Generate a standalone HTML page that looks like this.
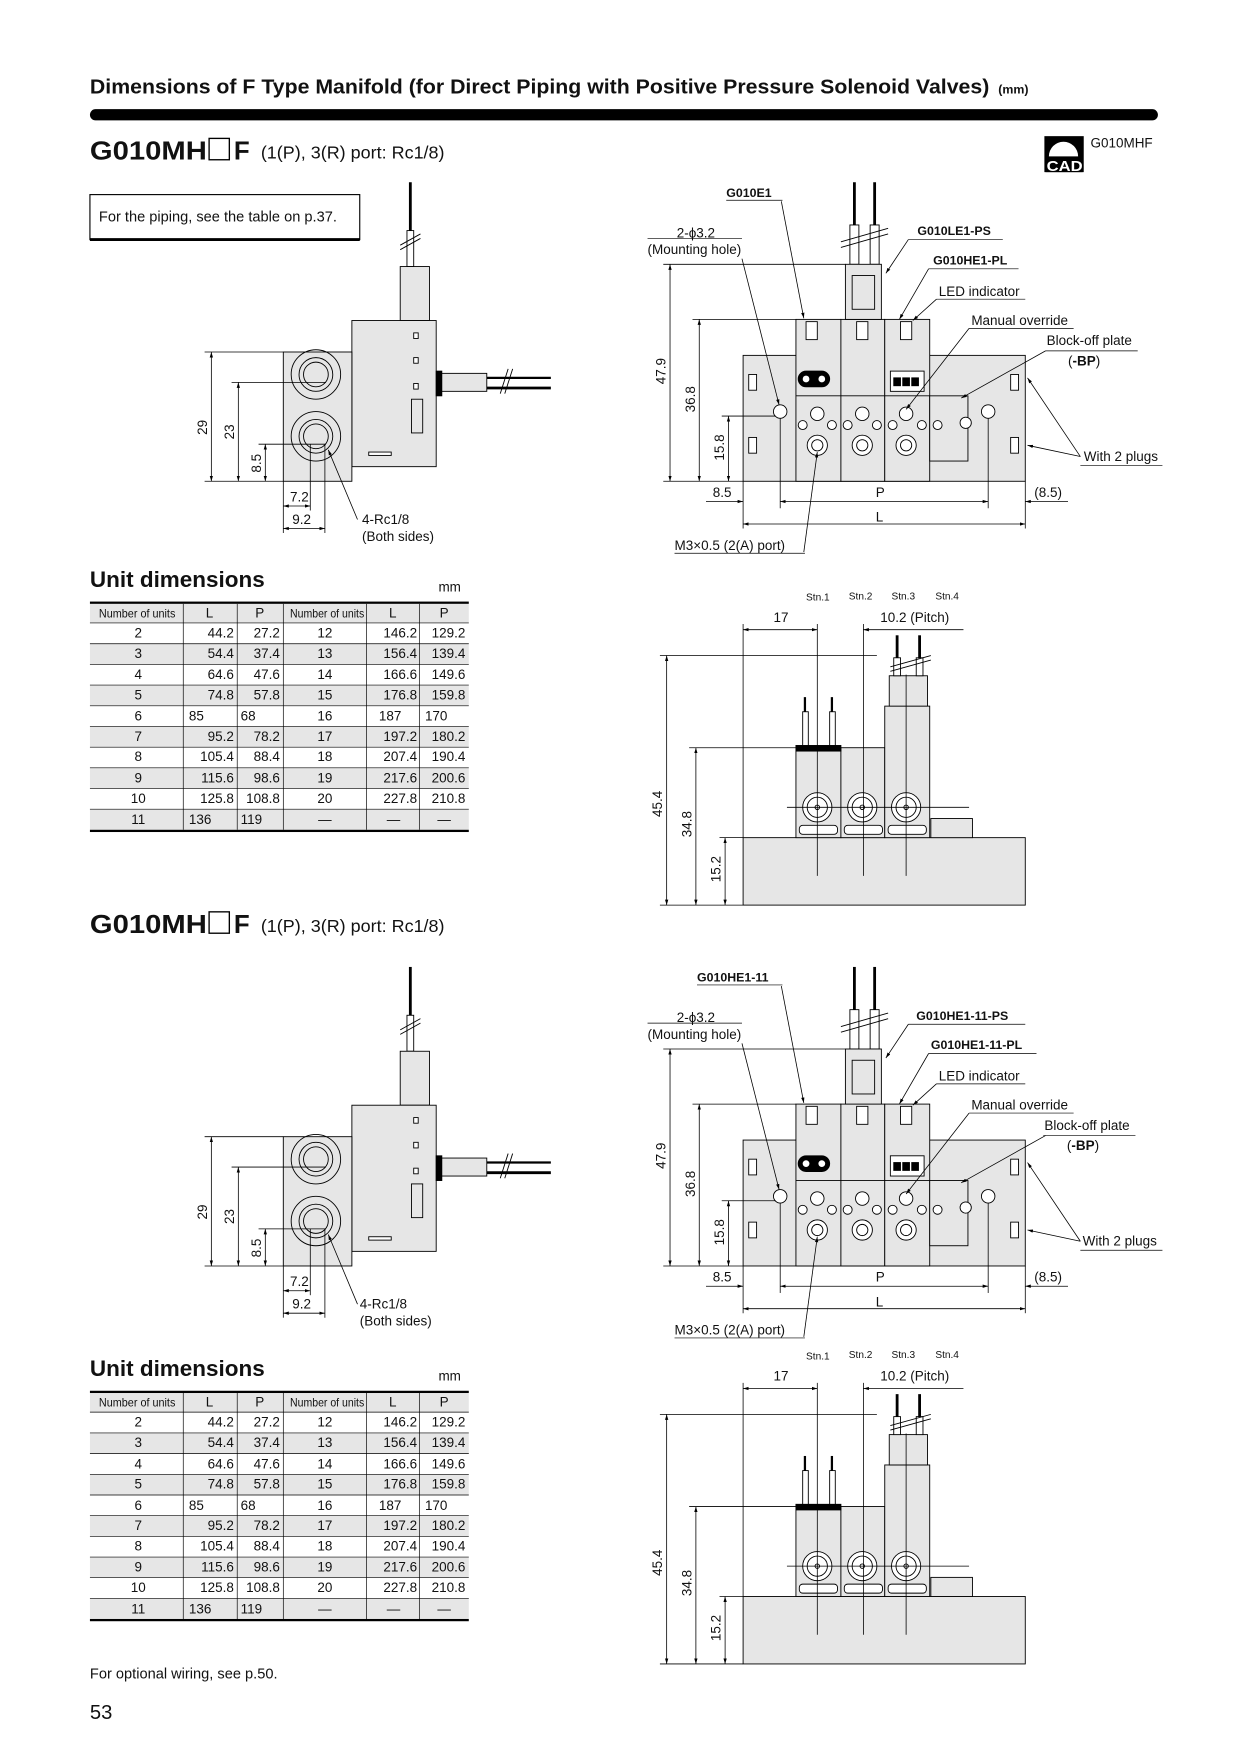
<!DOCTYPE html>
<html><head><meta charset="utf-8"><style>
html,body{margin:0;padding:0;background:#fff}
svg{display:block}
text{font-family:"Liberation Sans",sans-serif;fill:#111}
</style></head><body>
<svg width="1240" height="1754" viewBox="0 0 1103 1560" xmlns="http://www.w3.org/2000/svg">
<defs>
<marker id="ar" viewBox="0 0 10 10" refX="10" refY="5" markerWidth="7" markerHeight="7" orient="auto-start-reverse"><path d="M0,2 L10,5 L0,8 z" fill="#000"/></marker>

<g id="side" stroke="#000" stroke-width="0.8" fill="#e6e6e6">
 <line x1="365" y1="162" x2="365" y2="205" stroke-width="2.5"/>
 <rect x="362" y="205" width="6" height="32" fill="#fff"/>
 <line x1="356" y1="218" x2="374" y2="208"/><line x1="356" y1="222" x2="374" y2="212"/>
 <rect x="356" y="237" width="26" height="48"/>
 <rect x="313" y="285" width="75" height="130"/>
 <rect x="252" y="313" width="61" height="115"/>
 <circle cx="281" cy="333" r="22" fill="none"/><circle cx="281" cy="333" r="15" fill="none"/><circle cx="281" cy="333" r="11" fill="none"/>
 <circle cx="281" cy="388" r="22" fill="none"/><circle cx="281" cy="388" r="15" fill="none"/><circle cx="281" cy="388" r="11" fill="none"/>
 <rect x="368" y="296" width="4" height="5" fill="#fff"/><rect x="368" y="318" width="4" height="5" fill="#fff"/><rect x="368" y="341" width="4" height="5" fill="#fff"/>
 <rect x="388" y="330" width="5" height="22" fill="#000"/>
 <rect x="393" y="332" width="40" height="16"/>
 <line x1="433" y1="336" x2="490" y2="336" stroke-width="2"/><line x1="433" y1="345" x2="490" y2="345" stroke-width="2.5"/>
 <line x1="445" y1="350" x2="452" y2="328"/><line x1="449" y1="350" x2="456" y2="328"/>
 <rect x="366" y="355" width="10" height="30"/>
 <rect x="328" y="402" width="20" height="3" fill="#fff"/>
</g>
<g id="sidedim" stroke="#000" stroke-width="0.7" fill="none">
 <line x1="182" y1="313" x2="252" y2="313"/><line x1="182" y1="428" x2="252" y2="428"/>
 <line x1="206" y1="340" x2="290" y2="340"/><line x1="230" y1="395" x2="290" y2="395"/>
 <line x1="188" y1="313" x2="188" y2="428" marker-start="url(#ar)" marker-end="url(#ar)"/>
 <line x1="212" y1="340" x2="212" y2="428" marker-start="url(#ar)" marker-end="url(#ar)"/>
 <line x1="236" y1="395" x2="236" y2="428" marker-start="url(#ar)" marker-end="url(#ar)"/>
 <line x1="252" y1="428" x2="252" y2="474"/><line x1="276" y1="395" x2="276" y2="454"/><line x1="289" y1="395" x2="289" y2="474"/>
 <line x1="252" y1="450" x2="276" y2="450" marker-start="url(#ar)" marker-end="url(#ar)"/>
 <line x1="252" y1="470" x2="289" y2="470" marker-start="url(#ar)" marker-end="url(#ar)"/>
 <line x1="318" y1="462" x2="292" y2="400" marker-end="url(#ar)"/>
</g>

<g id="front" stroke="#000" stroke-width="0.8" fill="#e6e6e6">
 <line x1="760" y1="162" x2="760" y2="200" stroke-width="2.5"/><line x1="778" y1="162" x2="778" y2="200" stroke-width="2.5"/>
 <rect x="756" y="200" width="8" height="35" fill="#fff"/><rect x="774" y="200" width="8" height="35" fill="#fff"/>
 <line x1="748" y1="215" x2="790" y2="203"/><line x1="748" y1="220" x2="790" y2="208"/>
 <rect x="661" y="316" width="251" height="112"/>
 <rect x="708" y="284" width="40" height="144"/><rect x="748" y="284" width="39" height="144"/><rect x="787" y="284" width="40" height="144"/>
 <rect x="752" y="235" width="32" height="49"/><rect x="758" y="245" width="20" height="30" fill="#e6e6e6"/>
 <rect x="717" y="286" width="10" height="16" fill="#fff"/><rect x="762" y="286" width="10" height="16" fill="#fff"/><rect x="801" y="286" width="10" height="16" fill="#fff"/>
 <rect x="710" y="330" width="28" height="14" rx="7" fill="#000"/>
 <circle cx="717" cy="337" r="3" fill="#fff" stroke="none"/><circle cx="731" cy="337" r="3" fill="#fff" stroke="none"/>
 <rect x="792" y="330" width="30" height="18" fill="#fff"/>
 <rect x="795" y="336" width="6" height="7" fill="#000"/><rect x="803" y="336" width="6" height="7" fill="#000"/><rect x="811" y="336" width="6" height="7" fill="#000"/>
 <line x1="708" y1="352" x2="827" y2="352"/>
 <rect x="827" y="352" width="34" height="58"/>
 <g fill="#fff">
 <circle cx="727" cy="368" r="6"/><circle cx="767" cy="368" r="6"/><circle cx="806" cy="368" r="6"/>
 <circle cx="714" cy="378" r="4"/><circle cx="740" cy="378" r="4"/><circle cx="754" cy="378" r="4"/><circle cx="780" cy="378" r="4"/><circle cx="794" cy="378" r="4"/><circle cx="820" cy="378" r="4"/><circle cx="834" cy="378" r="4"/><circle cx="859" cy="376" r="5"/>
 <circle cx="727" cy="396" r="9"/><circle cx="727" cy="396" r="5"/>
 <circle cx="767" cy="396" r="9"/><circle cx="767" cy="396" r="5"/>
 <circle cx="806" cy="396" r="9"/><circle cx="806" cy="396" r="5"/>
 <circle cx="694" cy="366" r="6"/><circle cx="879" cy="366" r="6"/>
 <rect x="666" y="333" width="7" height="14"/><rect x="666" y="389" width="7" height="14"/>
 <rect x="899" y="333" width="7" height="14"/><rect x="899" y="389" width="7" height="14"/>
 </g>
</g>
<g id="frontdim" stroke="#000" stroke-width="0.7" fill="none">
 <line x1="590" y1="235" x2="752" y2="235"/><line x1="616" y1="284" x2="708" y2="284"/><line x1="642" y1="370" x2="690" y2="370"/>
 <line x1="590" y1="428" x2="661" y2="428"/>
 <line x1="596" y1="235" x2="596" y2="428" marker-start="url(#ar)" marker-end="url(#ar)"/>
 <line x1="622" y1="284" x2="622" y2="428" marker-start="url(#ar)" marker-end="url(#ar)"/>
 <line x1="648" y1="370" x2="648" y2="428" marker-start="url(#ar)" marker-end="url(#ar)"/>
 <line x1="661" y1="428" x2="661" y2="470"/><line x1="912" y1="428" x2="912" y2="470"/>
 <line x1="694" y1="372" x2="694" y2="452"/><line x1="879" y1="372" x2="879" y2="452"/>
 <line x1="628" y1="446" x2="661" y2="446" marker-end="url(#ar)"/>
 <line x1="694" y1="446" x2="879" y2="446" marker-start="url(#ar)" marker-end="url(#ar)"/>
 <line x1="912" y1="446" x2="950" y2="446" marker-start="url(#ar)"/>
 <line x1="661" y1="466" x2="912" y2="466" marker-start="url(#ar)" marker-end="url(#ar)"/>
 <line x1="660" y1="230" x2="693" y2="360" marker-end="url(#ar)"/>
 <line x1="695" y1="179" x2="715" y2="283" marker-end="url(#ar)"/>
 <line x1="808" y1="213" x2="788" y2="243" marker-end="url(#ar)"/>
 <line x1="826" y1="239" x2="800" y2="284" marker-end="url(#ar)"/>
 <line x1="833" y1="266" x2="812" y2="285" marker-end="url(#ar)"/>
 <line x1="862" y1="292" x2="806" y2="364" marker-end="url(#ar)"/>
 <line x1="930" y1="312" x2="855" y2="354" marker-end="url(#ar)"/>
 <line x1="961" y1="406" x2="914" y2="336" marker-end="url(#ar)"/>
 <line x1="961" y1="406" x2="914" y2="396" marker-end="url(#ar)"/>
 <line x1="715" y1="491" x2="727" y2="402" marker-end="url(#ar)"/>
</g>

<g id="lside" stroke="#000" stroke-width="0.8" fill="#e6e6e6">
 <rect x="661" y="745" width="251" height="60"/>
 <rect x="708" y="665" width="40" height="80"/><rect x="748" y="665" width="39" height="80"/>
 <rect x="787" y="628" width="40" height="117"/>
 <rect x="791" y="601" width="34" height="27"/>
 <rect x="708" y="663" width="40" height="5" fill="#000"/>
 <rect x="828" y="728" width="37" height="17"/>
 <line x1="716" y1="620" x2="716" y2="633" stroke-width="2"/><line x1="740" y1="620" x2="740" y2="633" stroke-width="2"/>
 <rect x="714" y="633" width="5" height="30" fill="#fff"/><rect x="738" y="633" width="5" height="30" fill="#fff"/>
 <line x1="798" y1="565" x2="798" y2="585" stroke-width="2.5"/><line x1="818" y1="565" x2="818" y2="585" stroke-width="2.5"/>
 <rect x="795" y="585" width="6" height="16" fill="#fff"/><rect x="815" y="585" width="6" height="16" fill="#fff"/>
 <line x1="792" y1="593" x2="828" y2="583"/><line x1="792" y1="597" x2="828" y2="587"/>
 <g fill="#fff">
 <circle cx="727" cy="718" r="13"/><circle cx="727" cy="718" r="9"/><circle cx="727" cy="718" r="2"/>
 <circle cx="767" cy="718" r="13"/><circle cx="767" cy="718" r="9"/><circle cx="767" cy="718" r="2"/>
 <circle cx="806" cy="718" r="13"/><circle cx="806" cy="718" r="9"/><circle cx="806" cy="718" r="2"/>
 <rect x="711" y="734" width="34" height="8" rx="3"/><rect x="751" y="734" width="34" height="8" rx="3"/><rect x="790" y="734" width="34" height="8" rx="3"/>
 </g>
</g>
<g id="lsidedim" stroke="#000" stroke-width="0.7" fill="none">
 <line x1="587" y1="583" x2="780" y2="583"/><line x1="613" y1="665" x2="708" y2="665"/><line x1="640" y1="745" x2="661" y2="745"/>
 <line x1="587" y1="805" x2="661" y2="805"/>
 <line x1="593" y1="583" x2="593" y2="805" marker-start="url(#ar)" marker-end="url(#ar)"/>
 <line x1="619" y1="665" x2="619" y2="805" marker-start="url(#ar)" marker-end="url(#ar)"/>
 <line x1="645" y1="745" x2="645" y2="805" marker-start="url(#ar)" marker-end="url(#ar)"/>
 <line x1="661" y1="555" x2="661" y2="745"/><line x1="727" y1="555" x2="727" y2="779"/><line x1="768" y1="555" x2="768" y2="779"/><line x1="806" y1="600" x2="806" y2="779"/>
 <line x1="661" y1="560" x2="727" y2="560" marker-start="url(#ar)" marker-end="url(#ar)"/>
 <line x1="768" y1="560" x2="857" y2="560" marker-start="url(#ar)"/>
 <line x1="700" y1="718" x2="862" y2="718"/>
</g>

<g id="tbl">
 <rect x="80" y="537" width="337" height="17" fill="#e6e6e6"/>
 <rect x="80" y="572.5" width="337" height="18.4" fill="#e6e6e6"/>
 <rect x="80" y="609.3" width="337" height="18.4" fill="#e6e6e6"/>
 <rect x="80" y="646.1" width="337" height="18.4" fill="#e6e6e6"/>
 <rect x="80" y="682.9" width="337" height="18.4" fill="#e6e6e6"/>
 <rect x="80" y="719.7" width="337" height="18.4" fill="#e6e6e6"/>
 <g stroke="#000" stroke-width="0.6">
 <line x1="80" y1="554" x2="417" y2="554"/><line x1="80" y1="572.5" x2="417" y2="572.5"/><line x1="80" y1="590.9" x2="417" y2="590.9"/><line x1="80" y1="609.3" x2="417" y2="609.3"/><line x1="80" y1="627.7" x2="417" y2="627.7"/><line x1="80" y1="646.1" x2="417" y2="646.1"/><line x1="80" y1="664.5" x2="417" y2="664.5"/><line x1="80" y1="682.9" x2="417" y2="682.9"/><line x1="80" y1="701.3" x2="417" y2="701.3"/><line x1="80" y1="719.7" x2="417" y2="719.7"/>
 <line x1="163" y1="537" x2="163" y2="738"/><line x1="211" y1="537" x2="211" y2="738"/><line x1="252" y1="537" x2="252" y2="738"/><line x1="326" y1="537" x2="326" y2="738"/><line x1="373" y1="537" x2="373" y2="738"/>
 </g>
 <rect x="80" y="535" width="337" height="2" fill="#000"/><rect x="80" y="738" width="337" height="2" fill="#000"/>
</g>
</defs>

<text x="80" y="83" font-size="18" font-weight="bold" textLength="800" lengthAdjust="spacingAndGlyphs">Dimensions of F Type Manifold (for Direct Piping with Positive Pressure Solenoid Valves)</text>
<text x="888" y="83" font-size="11" font-weight="bold">(mm)</text>
<rect x="80" y="97" width="950" height="10" rx="5" fill="#000"/>

<rect x="929" y="121" width="35" height="32" fill="#000"/>
<circle cx="946" cy="139" r="13" fill="#fff"/>
<rect x="930" y="139" width="33" height="14" fill="#000"/>
<text x="931" y="152" font-size="13" font-weight="bold" style="fill:#fff" textLength="32" lengthAdjust="spacingAndGlyphs">CAD</text>
<text x="970" y="131" font-size="12">G010MHF</text>

<text x="80" y="142" font-size="23" font-weight="bold" textLength="104" lengthAdjust="spacingAndGlyphs">G010MH</text>
<rect x="186" y="123" width="18" height="19" fill="none" stroke="#000" stroke-width="1.2"/>
<text x="208" y="142" font-size="23" font-weight="bold">F</text>
<text x="232" y="141" font-size="16">(1(P), 3(R) port: Rc1/8)</text>
<rect x="80" y="173" width="240" height="40" fill="#fff" stroke="#000" stroke-width="1"/>
<line x1="80" y1="213" x2="320" y2="213" stroke="#000" stroke-width="2.5"/>
<text x="88" y="197" font-size="13">For the piping, see the table on p.37.</text>

<use href="#side"/><use href="#sidedim"/>
<g font-size="12">
<text transform="translate(184,380) rotate(-90)" text-anchor="middle">29</text>
<text transform="translate(208,384) rotate(-90)" text-anchor="middle">23</text>
<text transform="translate(232,412) rotate(-90)" text-anchor="middle">8.5</text>
<text x="258" y="446">7.2</text><text x="260" y="466">9.2</text>
<text x="322" y="466">4-Rc1/8</text><text x="322" y="481">(Both sides)</text>
</g>

<use href="#front"/><use href="#frontdim"/>
<g font-size="12">
<text x="646" y="175" font-weight="bold" font-size="11">G010E1</text>
<line x1="646" y1="178" x2="696" y2="178" stroke="#000" stroke-width="0.6"/>
<text x="602" y="211">2-ϕ3.2</text><text x="576" y="226">(Mounting hole)</text>
<line x1="576" y1="212" x2="660" y2="212" stroke="#000" stroke-width="0.6"/>
<text x="816" y="209" font-weight="bold" font-size="11">G010LE1-PS</text>
<line x1="808" y1="213" x2="892" y2="213" stroke="#000" stroke-width="0.6"/>
<text x="830" y="235" font-weight="bold" font-size="11">G010HE1-PL</text>
<line x1="826" y1="239" x2="906" y2="239" stroke="#000" stroke-width="0.6"/>
<text x="835" y="263">LED indicator</text>
<line x1="833" y1="266" x2="912" y2="266" stroke="#000" stroke-width="0.6"/>
<text x="864" y="289">Manual override</text>
<line x1="862" y1="292" x2="955" y2="292" stroke="#000" stroke-width="0.6"/>
<text x="931" y="307">Block-off plate</text>
<line x1="930" y1="312" x2="1012" y2="312" stroke="#000" stroke-width="0.6"/>
<text x="950" y="325">(<tspan font-weight="bold">-BP</tspan>)</text>
<text x="964" y="410">With 2 plugs</text>
<line x1="961" y1="414" x2="1034" y2="414" stroke="#000" stroke-width="0.6"/>
<text transform="translate(592,330) rotate(-90)" text-anchor="middle">47.9</text>
<text transform="translate(618,355) rotate(-90)" text-anchor="middle">36.8</text>
<text transform="translate(644,398) rotate(-90)" text-anchor="middle">15.8</text>
<text x="634" y="442">8.5</text><text x="779" y="442">P</text><text x="920" y="442">(8.5)</text>
<text x="779" y="464">L</text>
<text x="600" y="489">M3×0.5 (2(A) port)</text>
<line x1="600" y1="492" x2="716" y2="492" stroke="#000" stroke-width="0.6"/>
</g>

<text x="80" y="522" font-size="20" font-weight="bold">Unit dimensions</text>
<text x="390" y="526" font-size="12">mm</text>
<use href="#tbl"/>
<g id="tt" font-size="12">
<text x="88" y="549" font-size="10.5" textLength="68" lengthAdjust="spacingAndGlyphs">Number of units</text><text x="183" y="549">L</text><text x="227" y="549">P</text>
<text x="258" y="549" font-size="10.5" textLength="66" lengthAdjust="spacingAndGlyphs">Number of units</text><text x="346" y="549">L</text><text x="391" y="549">P</text>
<g text-anchor="middle">
<text x="123" y="567">2</text><text x="123" y="585">3</text><text x="123" y="604">4</text><text x="123" y="622">5</text><text x="123" y="641">6</text><text x="123" y="659">7</text><text x="123" y="677">8</text><text x="123" y="696">9</text><text x="123" y="714">10</text><text x="123" y="733">11</text>
<text x="289" y="567">12</text><text x="289" y="585">13</text><text x="289" y="604">14</text><text x="289" y="622">15</text><text x="289" y="641">16</text><text x="289" y="659">17</text><text x="289" y="677">18</text><text x="289" y="696">19</text><text x="289" y="714">20</text><text x="289" y="733">—</text>
<text x="350" y="733">—</text><text x="395" y="733">—</text>
</g>
<g text-anchor="end">
<text x="208" y="567">44.2</text><text x="208" y="585">54.4</text><text x="208" y="604">64.6</text><text x="208" y="622">74.8</text><text x="208" y="659">95.2</text><text x="208" y="677">105.4</text><text x="208" y="696">115.6</text><text x="208" y="714">125.8</text>
<text x="249" y="567">27.2</text><text x="249" y="585">37.4</text><text x="249" y="604">47.6</text><text x="249" y="622">57.8</text><text x="249" y="659">78.2</text><text x="249" y="677">88.4</text><text x="249" y="696">98.6</text><text x="249" y="714">108.8</text>
<text x="371" y="567">146.2</text><text x="371" y="585">156.4</text><text x="371" y="604">166.6</text><text x="371" y="622">176.8</text><text x="371" y="659">197.2</text><text x="371" y="677">207.4</text><text x="371" y="696">217.6</text><text x="371" y="714">227.8</text>
<text x="414" y="567">129.2</text><text x="414" y="585">139.4</text><text x="414" y="604">149.6</text><text x="414" y="622">159.8</text><text x="414" y="659">180.2</text><text x="414" y="677">190.4</text><text x="414" y="696">200.6</text><text x="414" y="714">210.8</text>
</g>
<text x="168" y="641">85</text><text x="214" y="641">68</text><text x="337" y="641">187</text><text x="378" y="641">170</text>
<text x="168" y="733">136</text><text x="214" y="733">119</text>
</g>

<use href="#lside"/><use href="#lsidedim"/>
<g id="lst" font-size="12">
<text x="717" y="534" font-size="9">Stn.1</text><text x="755" y="533" font-size="9">Stn.2</text><text x="793" y="533" font-size="9">Stn.3</text><text x="832" y="533" font-size="9">Stn.4</text>
<text x="688" y="553">17</text><text x="783" y="553">10.2 (Pitch)</text>
<text transform="translate(589,715) rotate(-90)" text-anchor="middle">45.4</text>
<text transform="translate(615,733) rotate(-90)" text-anchor="middle">34.8</text>
<text transform="translate(641,773) rotate(-90)" text-anchor="middle">15.2</text>
</g>

<g transform="translate(0,688)">
<text x="80" y="142" font-size="23" font-weight="bold" textLength="104" lengthAdjust="spacingAndGlyphs">G010MH</text>
<rect x="186" y="123" width="18" height="19" fill="none" stroke="#000" stroke-width="1.2"/>
<text x="208" y="142" font-size="23" font-weight="bold">F</text>
<text x="232" y="141" font-size="16">(1(P), 3(R) port: Rc1/8)</text>
</g>
<g transform="translate(0,698)">
<use href="#side"/><use href="#sidedim"/>
<g font-size="12">
<text transform="translate(184,380) rotate(-90)" text-anchor="middle">29</text>
<text transform="translate(208,384) rotate(-90)" text-anchor="middle">23</text>
<text transform="translate(232,412) rotate(-90)" text-anchor="middle">8.5</text>
<text x="258" y="446">7.2</text><text x="260" y="466">9.2</text>
<text x="320" y="466">4-Rc1/8</text><text x="320" y="481">(Both sides)</text>
</g>
<use href="#front"/><use href="#frontdim"/>
<g font-size="12">
<text x="620" y="175" font-weight="bold" font-size="11">G010HE1-11</text>
<line x1="620" y1="178" x2="696" y2="178" stroke="#000" stroke-width="0.6"/>
<text x="602" y="211">2-ϕ3.2</text><text x="576" y="226">(Mounting hole)</text>
<line x1="576" y1="212" x2="660" y2="212" stroke="#000" stroke-width="0.6"/>
<text x="815" y="209" font-weight="bold" font-size="11">G010HE1-11-PS</text>
<line x1="808" y1="213" x2="912" y2="213" stroke="#000" stroke-width="0.6"/>
<text x="828" y="235" font-weight="bold" font-size="11">G010HE1-11-PL</text>
<line x1="826" y1="239" x2="922" y2="239" stroke="#000" stroke-width="0.6"/>
<text x="835" y="263">LED indicator</text>
<line x1="833" y1="266" x2="912" y2="266" stroke="#000" stroke-width="0.6"/>
<text x="864" y="289">Manual override</text>
<line x1="862" y1="292" x2="955" y2="292" stroke="#000" stroke-width="0.6"/>
<text x="929" y="307">Block-off plate</text>
<line x1="928" y1="312" x2="1010" y2="312" stroke="#000" stroke-width="0.6"/>
<text x="949" y="325">(<tspan font-weight="bold">-BP</tspan>)</text>
<text x="963" y="410">With 2 plugs</text>
<line x1="961" y1="414" x2="1034" y2="414" stroke="#000" stroke-width="0.6"/>
<text transform="translate(592,330) rotate(-90)" text-anchor="middle">47.9</text>
<text transform="translate(618,355) rotate(-90)" text-anchor="middle">36.8</text>
<text transform="translate(644,398) rotate(-90)" text-anchor="middle">15.8</text>
<text x="634" y="442">8.5</text><text x="779" y="442">P</text><text x="920" y="442">(8.5)</text>
<text x="779" y="464">L</text>
<text x="600" y="489">M3×0.5 (2(A) port)</text>
<line x1="600" y1="492" x2="716" y2="492" stroke="#000" stroke-width="0.6"/>
</g>
</g>
<g transform="translate(0,702)">
<text x="80" y="522" font-size="20" font-weight="bold">Unit dimensions</text>
<text x="390" y="526" font-size="12">mm</text>
<use href="#tbl"/><use href="#tt"/>
</g>
<g transform="translate(0,675)">
<use href="#lside"/><use href="#lsidedim"/><use href="#lst"/>
</g>

<text x="80" y="1493" font-size="13">For optional wiring, see p.50.</text>
<text x="80" y="1529" font-size="18">53</text>
</svg>
</body></html>
